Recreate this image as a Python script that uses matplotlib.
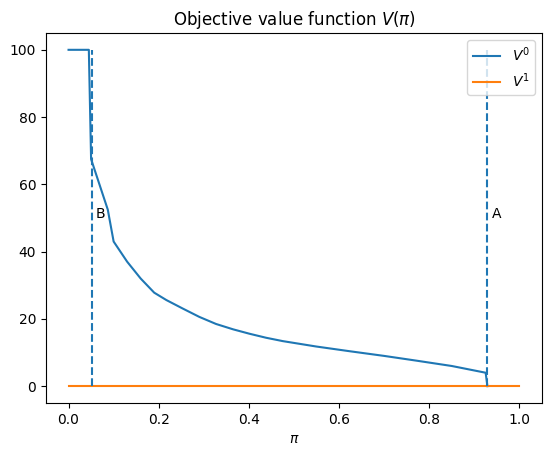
import numpy as np
import matplotlib
matplotlib.use('Agg')
import matplotlib.pyplot as plt

# values
pi0 = [0.0, 0.045, 0.05, 0.087, 0.1, 0.13, 0.16, 0.19, 0.217, 0.253, 0.29,
       0.327, 0.365, 0.401, 0.438, 0.475, 0.549, 0.623, 0.7, 0.771, 0.85,
       0.925, 0.929]
v0 = [100, 100, 67.5, 52.5, 43, 37, 32, 27.8, 25.6, 23.1, 20.6,
      18.5, 16.9, 15.6, 14.4, 13.4, 11.8, 10.4, 9.0, 7.6, 6.0,
      4.0, 0]
pi1 = [0.0, 1.0]
v1 = [0, 0]

thresh_B = 0.051
thresh_A = 0.929

fig = plt.figure(figsize=(5.52, 4.55), dpi=100)
ax = fig.add_axes([46/552, 52/455, 496/552, 370/455])

ax.plot(pi0, v0, label='$V^0$')
ax.plot(pi1, v1, label='$V^1$')
ax.vlines([thresh_B, thresh_A], 0, 100, colors='C0', linestyles='dashed')
ax.text(thresh_B + 0.01, 50, 'B')
ax.text(thresh_A + 0.01, 50, 'A')

ax.set_title(r'Objective value function $V(\pi)$')
ax.set_xlabel(r'$\pi$')
ax.legend(loc='upper right')

fig.savefig('out.png', dpi=100)
